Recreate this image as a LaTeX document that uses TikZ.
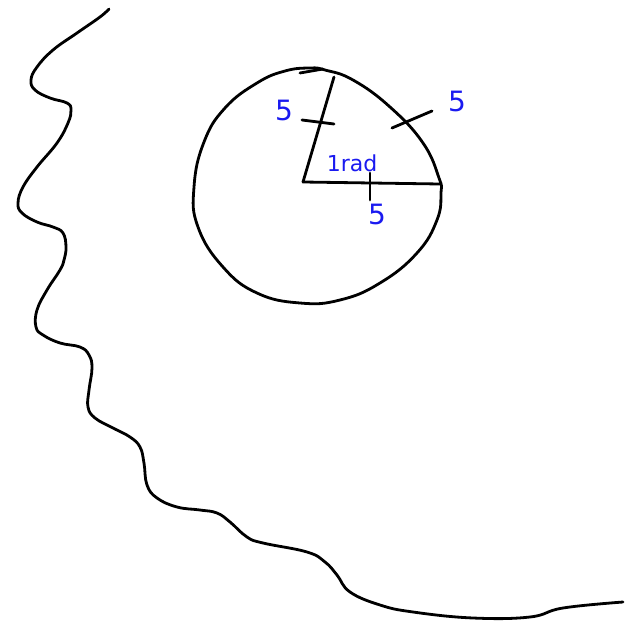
\documentclass[tikz,border=0pt]{standalone}
\usepackage{fontspec}
\setsansfont{DejaVu Sans}
\usepackage{tikz}
\definecolor{kalemMavi}{HTML}{1A1AF0}
\begin{document}
\begin{tikzpicture}[x=1pt,y=-1pt,line width=2.8pt,line cap=round,line join=round]
\useasboundingbox (0,0) rectangle (635,623);
\draw plot[smooth,tension=0.7] coordinates {(109,9) (100,17) (77,33) (53,50) (37,67) (31,80) (35,90) (50,98) (67,103) (71,110) (68,123) (57,143) (37,167) (23,187) (18,203) (22,213) (37,222) (53,227) (63,233) (66,247) (64,260) (60,270) (47,290) (37,310) (36,327) (43,335) (60,343) (80,347) (89,355) (92,368) (89,390) (88,407) (95,418) (113,428) (130,437) (140,447) (144,463) (147,485) (157,498) (177,507) (200,510) (217,513) (230,522) (247,537) (263,543) (307,552) (325,562) (337,575) (350,592) (380,605) (413,612) (473,618) (530,617) (563,608) (623,602)};
\draw plot[smooth cycle,tension=0.75] coordinates {(310,68) (285,71) (257,83) (225,108) (204,142) (194,187) (198,227) (223,267) (257,293) (300,303) (340,300) (380,283) (417,253) (437,220) (441,193) (439,178) (423,143) (390,107) (353,80) (325,70)};
\draw (300,73) -- (323,69);
\coordinate (O) at (303,182);
\coordinate (A) at (334,77);
\coordinate (B) at (440,184);
\draw (O) -- (A);
\draw (O) -- (B);
\draw (302,120) -- (334,124);
\draw (370,173) -- (370,200);
\draw (392,128) -- (432,111);
\node[kalemMavi,font=\sffamily\fontsize{28}{28}\selectfont] (s1) at (284,110) {5};
\node[kalemMavi,font=\sffamily\fontsize{28}{28}\selectfont] (s2) at (457,101) {5};
\node[kalemMavi,font=\sffamily\fontsize{28}{28}\selectfont] (s3) at (377,214) {5};
\node[kalemMavi,font=\sffamily\fontsize{22}{22}\selectfont] (rad) at (352,163) {1rad};
\end{tikzpicture}
\end{document}
